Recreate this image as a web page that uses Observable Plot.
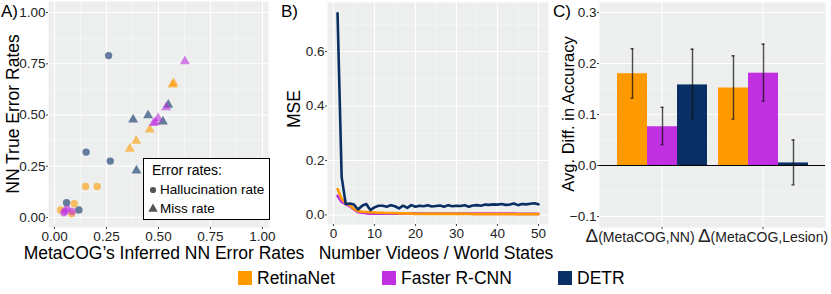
<!DOCTYPE html>
<html><head><meta charset="utf-8">
<script src="https://cdn.jsdelivr.net/npm/d3@7"></script>
<script src="https://cdn.jsdelivr.net/npm/@observablehq/plot@0.6"></script>
<style>
body{margin:0;background:#fff;font-family:"Liberation Sans",Arial,sans-serif;}
#root{position:relative;width:831px;height:294px;overflow:hidden;}
.layer{position:absolute;top:0;}
.t{position:absolute;white-space:nowrap;color:#000;line-height:1;}
.title{font-size:17.5px;}
.rot{transform:translate(-50%,-50%) rotate(-90deg);}
.ctr{transform:translate(-50%,-50%);}
</style></head><body><div id="root"></div>
<script>
// ---------- shared ----------
const models = ["RetinaNet", "Faster R-CNN", "DETR"];
const modelColors = ["#FF9900", "#C02FE0", "#0A2F64"];
const bg = "#ECEFEE";

// ---------- Panel A ----------
const errorTypes = ["Hallucination rate", "Miss rate"];
const aModel = [
  "DETR","DETR","DETR","DETR","DETR",
  "RetinaNet","RetinaNet","RetinaNet","RetinaNet","RetinaNet",
  "Faster R-CNN","Faster R-CNN","Faster R-CNN","Faster R-CNN",
  "DETR","DETR","DETR","DETR","DETR",
  "RetinaNet","RetinaNet","RetinaNet","RetinaNet","RetinaNet",
  "Faster R-CNN","Faster R-CNN","Faster R-CNN","Faster R-CNN","Faster R-CNN"
];
const aType = [
  "Hallucination rate","Hallucination rate","Hallucination rate","Hallucination rate","Hallucination rate",
  "Hallucination rate","Hallucination rate","Hallucination rate","Hallucination rate","Hallucination rate",
  "Hallucination rate","Hallucination rate","Hallucination rate","Hallucination rate",
  "Miss rate","Miss rate","Miss rate","Miss rate","Miss rate",
  "Miss rate","Miss rate","Miss rate","Miss rate","Miss rate",
  "Miss rate","Miss rate","Miss rate","Miss rate","Miss rate"
];
const aInferred = [
  0.26, 0.152, 0.268, 0.058, 0.117,
  0.149, 0.205, 0.095, 0.029, 0.082,
  0.045, 0.085, 0.061, 0.05,
  0.378, 0.45, 0.521, 0.547, 0.394,
  0.362, 0.393, 0.458, 0.567, 0.573,
  0.627, 0.537, 0.498, 0.486, 0.476
];
const aTrue = [
  0.79, 0.319, 0.275, 0.072, 0.037,
  0.151, 0.151, 0.067, 0.037, 0.018,
  0.023, 0.029, 0.042, 0.03,
  0.478, 0.498, 0.468, 0.55, 0.229,
  0.335, 0.374, 0.429, 0.648, 0.655,
  0.762, 0.537, 0.484, 0.465, 0.46
];
const aTicks = [0, 0.25, 0.5, 0.75, 1];
const aMinor = [0.125, 0.375, 0.625, 0.875];

// ---------- Panel B ----------
const bVideos = [1,2,3,4,5,6,7,8,9,10,11,12,13,14,15,16,17,18,19,20,21,22,23,24,25,
  26,27,28,29,30,31,32,33,34,35,36,37,38,39,40,41,42,43,44,45,46,47,48,49,50];
const bRetinaNet = [0.095,0.06,0.042,0.036,0.022,0.014,0.012,0.011,0.01,0.009,
  0.008,0.008,0.007,0.007,0.007,0.006,0.006,0.006,0.005,0.004,
  0.004,0.004,0.004,0.004,0.004,0.004,0.004,0.004,0.004,0.004,
  0.004,0.004,0.004,0.003,0.003,0.003,0.003,0.003,0.003,0.003,
  0.003,0.003,0.003,0.003,0.003,0.003,0.003,0.003,0.003,0.003];
const bFasterRCNN = [0.07,0.048,0.04,0.032,0.02,0.01,0.008,0.006,0.005,0.005,
  0.005,0.005,0.005,0.005,0.005,0.005,0.005,0.006,0.006,0.006,
  0.005,0.005,0.005,0.005,0.005,0.005,0.005,0.005,0.005,0.005,
  0.005,0.005,0.005,0.005,0.005,0.005,0.005,0.005,0.005,0.005,
  0.005,0.005,0.005,0.005,0.004,0.004,0.004,0.004,0.004,0.004];
const bDETR = [0.74,0.14,0.04,0.042,0.038,0.02,0.034,0.04,0.018,0.028,
  0.034,0.034,0.03,0.036,0.032,0.024,0.034,0.026,0.036,0.03,
  0.034,0.032,0.036,0.031,0.033,0.035,0.03,0.036,0.032,0.034,
  0.033,0.036,0.03,0.035,0.036,0.034,0.038,0.037,0.039,0.038,
  0.04,0.037,0.038,0.042,0.036,0.04,0.039,0.041,0.043,0.039];
const bXTicks = [0, 10, 20, 30, 40, 50];
const bXMinor = [5, 15, 25, 35, 45];
const bYTicks = [0, 0.2, 0.4, 0.6];
const bYMinor = [0.1, 0.3, 0.5, 0.7];

// ---------- Panel C ----------
const comparisons = ["Δ(MetaCOG,NN)", "Δ(MetaCOG,Lesion)"];
const cComparison = ["Δ(MetaCOG,NN)","Δ(MetaCOG,NN)","Δ(MetaCOG,NN)",
  "Δ(MetaCOG,Lesion)","Δ(MetaCOG,Lesion)","Δ(MetaCOG,Lesion)"];
const cModel = ["RetinaNet","Faster R-CNN","DETR","RetinaNet","Faster R-CNN","DETR"];
const cMean = [0.18, 0.076, 0.158, 0.152, 0.181, 0.005];
const cLow = [0.132, 0.041, 0.091, 0.091, 0.126, -0.038];
const cHigh = [0.229, 0.114, 0.228, 0.215, 0.238, 0.05];
const cTicks = [-0.1, 0, 0.1, 0.2, 0.3];
const cMinor = [-0.05, 0.05, 0.15, 0.25];

// ---------- build ----------
const root = document.getElementById("root");
const svgStyle = "background:transparent;font-family:'Liberation Sans',Arial,sans-serif;font-size:13.5px;color:#222;overflow:visible;";
const colorScale = {domain: models, range: modelColors};

function place(el, left) {
  el.classList.add("layer");
  el.style.left = left + "px";
  root.appendChild(el);
}
function text(str, x, y, cls, size) {
  const d = document.createElement("div");
  d.className = "t " + cls;
  d.textContent = str;
  d.style.left = x + "px";
  d.style.top = y + "px";
  if (size) d.style.fontSize = size + "px";
  root.appendChild(d);
  return d;
}

// Panel A
const dataA = aModel.map((m, i) => ({model: m, type: aType[i], x: aInferred[i], y: aTrue[i]}));
const plotA = Plot.plot({
  width: 280, height: 262,
  marginLeft: 48, marginRight: 12, marginTop: 1, marginBottom: 35,
  style: svgStyle,
  x: {domain: [-0.029, 1.029], label: null},
  y: {domain: [-0.049, 1.054], label: null},
  color: colorScale,
  symbol: {domain: errorTypes, range: ["circle", "triangle"]},
  marks: [
    Plot.frame({fill: bg, stroke: "none"}),
    Plot.gridX(aMinor, {stroke: "white", strokeOpacity: 0.7, strokeWidth: 0.6}),
    Plot.gridY(aMinor, {stroke: "white", strokeOpacity: 0.7, strokeWidth: 0.6}),
    Plot.gridX(aTicks, {stroke: "white", strokeOpacity: 1, strokeWidth: 1.1}),
    Plot.gridY(aTicks, {stroke: "white", strokeOpacity: 1, strokeWidth: 1.1}),
    Plot.dot(dataA, {x: "x", y: "y", symbol: "type", fill: "model", r: 3.7, fillOpacity: 0.6, stroke: "none"}),
    Plot.axisX(aTicks, {tickFormat: d3.format(".2f"), tickSize: 2, tickPadding: 2, label: null, stroke: "#444"}),
    Plot.axisY(aTicks, {tickFormat: d3.format(".2f"), tickSize: 2, tickPadding: 1, label: null, stroke: "#444"})
  ]
});
place(plotA, 0);

// Panel B
const dataB = [];
bVideos.forEach((n, i) => dataB.push({model: "Faster R-CNN", n, mse: bFasterRCNN[i]}));
bVideos.forEach((n, i) => dataB.push({model: "RetinaNet", n, mse: bRetinaNet[i]}));
bVideos.forEach((n, i) => dataB.push({model: "DETR", n, mse: bDETR[i]}));
const plotB = Plot.plot({
  width: 260, height: 262,
  marginLeft: 37, marginRight: 2, marginTop: 2, marginBottom: 38,
  style: svgStyle,
  x: {domain: [-1.45, 52.45], label: null},
  y: {domain: [-0.035, 0.78], label: null},
  color: colorScale,
  marks: [
    Plot.frame({fill: bg, stroke: "none"}),
    Plot.gridX(bXMinor, {stroke: "white", strokeOpacity: 0.7, strokeWidth: 0.6}),
    Plot.gridY(bYMinor, {stroke: "white", strokeOpacity: 0.7, strokeWidth: 0.6}),
    Plot.gridX(bXTicks, {stroke: "white", strokeOpacity: 1, strokeWidth: 1.1}),
    Plot.gridY(bYTicks, {stroke: "white", strokeOpacity: 1, strokeWidth: 1.1}),
    Plot.line(dataB, {x: "n", y: "mse", z: "model", stroke: "model", strokeWidth: 2.6, strokeLinejoin: "round"}),
    Plot.axisX(bXTicks, {tickSize: 2, tickPadding: 2, label: null, stroke: "#444"}),
    Plot.axisY(bYTicks, {tickFormat: d3.format(".1f"), tickSize: 2, tickPadding: 1, label: null, stroke: "#444"})
  ]
});
place(plotB, 290);

// Panel C (underlay: background, grid, axes)
const cDims = {width: 271, height: 262, marginLeft: 39, marginRight: 6, marginTop: 2, marginBottom: 35};
const cY = [-0.1216, 0.3196];
const plotC1 = Plot.plot({
  ...cDims,
  style: svgStyle,
  x: {type: "band", domain: comparisons, paddingInner: 0.098, paddingOuter: 0.157, label: null},
  y: {domain: cY, label: null},
  marks: [
    Plot.frame({fill: bg, stroke: "none"}),
    Plot.gridY(cMinor, {stroke: "white", strokeOpacity: 0.7, strokeWidth: 0.6}),
    Plot.gridY(cTicks, {stroke: "white", strokeOpacity: 1, strokeWidth: 1.1}),
    Plot.gridX({stroke: "white", strokeOpacity: 1, strokeWidth: 1.1}),
    Plot.ruleY([0], {stroke: "#000", strokeWidth: 1}),
    Plot.axisX({tickSize: 2, tickPadding: 3, label: null, stroke: "#444", fontSize: 14}),
    Plot.axisY(cTicks, {tickFormat: d3.format(".1f"), tickSize: 2, tickPadding: 1, label: null, stroke: "#444"})
  ]
});
place(plotC1, 560);
// larger delta glyph in category labels
plotC1.querySelectorAll('g[aria-label="x-axis tick label"] text').forEach((t, i) => {
  const s = t.textContent;
  if (s.startsWith("Δ")) {
    t.textContent = "";
    const ns = "http://www.w3.org/2000/svg";
    const a = document.createElementNS(ns, "tspan");
    a.setAttribute("font-size", "19");
    a.textContent = "Δ";
    const b = document.createElementNS(ns, "tspan");
    b.textContent = s.slice(1);
    t.appendChild(a); t.appendChild(b);
    if (i === 0) t.setAttribute("dx", "-22");
  }
});

// Panel C (overlay: bars and error bars)
const dataC = cModel.map((m, i) => ({comparison: cComparison[i], model: m, mean: cMean[i], low: cLow[i], high: cHigh[i]}));
const plotC2 = Plot.plot({
  ...cDims,
  style: svgStyle,
  fx: {domain: comparisons, paddingInner: 0.098, paddingOuter: 0.157, axis: null, label: null},
  x: {domain: models, padding: 0, axis: null, label: null},
  y: {domain: cY, axis: null, label: null},
  color: colorScale,
  marks: [
    Plot.barY(dataC, {fx: "comparison", x: "model", y: "mean", fill: "model"}),
    Plot.ruleY([0], {stroke: "#000", strokeWidth: 1}),
    Plot.ruleX(dataC, {fx: "comparison", x: "model", y1: "low", y2: "high", stroke: "#111", strokeOpacity: 0.75, strokeWidth: 1.4}),
    Plot.tickY(dataC, {fx: "comparison", x: "model", y: "low", insetLeft: 13.5, insetRight: 13.5, stroke: "#111", strokeOpacity: 0.75, strokeWidth: 1.4}),
    Plot.tickY(dataC, {fx: "comparison", x: "model", y: "high", insetLeft: 13.5, insetRight: 13.5, stroke: "#111", strokeOpacity: 0.75, strokeWidth: 1.4})
  ]
});
place(plotC2, 560);

// ---------- titles ----------
text("A)", 1, 3, "", 17);
text("B)", 281, 3, "", 17);
text("C)", 553, 3, "", 17);
text("NN True Error Rates", 14, 114, "title rot");
text("MetaCOG’s Inferred NN Error Rates", 164, 254, "title ctr");
text("MSE", 295, 109, "title rot");
text("Number Videos / World States", 436, 254, "title ctr");
text("Avg. Diff. in Accuracy", 568, 114, "title rot", 16.5);

// ---------- Panel A legend (error types) ----------
const box = document.createElement("div");
box.style.cssText = "position:absolute;left:143px;top:158px;width:125px;height:60px;background:#fff;border:1px solid #000;";
root.appendChild(box);
text("Error rates:", 152, 163, "", 14);
const symSvg = d3.create("svg").attr("width", 12).attr("height", 40)
  .style("position", "absolute").style("left", "147px").style("top", "182px");
symSvg.append("path").attr("d", d3.symbol(d3.symbolCircle, 30)()).attr("transform", "translate(6,8)").attr("fill", "#555");
symSvg.append("path").attr("d", d3.symbol(d3.symbolTriangle, 38)()).attr("transform", "translate(6,27)").attr("fill", "#555");
root.appendChild(symSvg.node());
text("Hallucination rate", 160, 183, "", 13.5);
text("Miss rate", 160, 202, "", 13.5);

// ---------- bottom legend (models) ----------
const legendX = [238, 382, 558];
models.forEach((m, i) => {
  const sw = document.createElement("div");
  sw.style.cssText = `position:absolute;left:${legendX[i]}px;top:271px;width:14px;height:14px;background:${modelColors[i]};`;
  root.appendChild(sw);
  text(m, legendX[i] + 19, 270, "title");
});
</script></body></html>
